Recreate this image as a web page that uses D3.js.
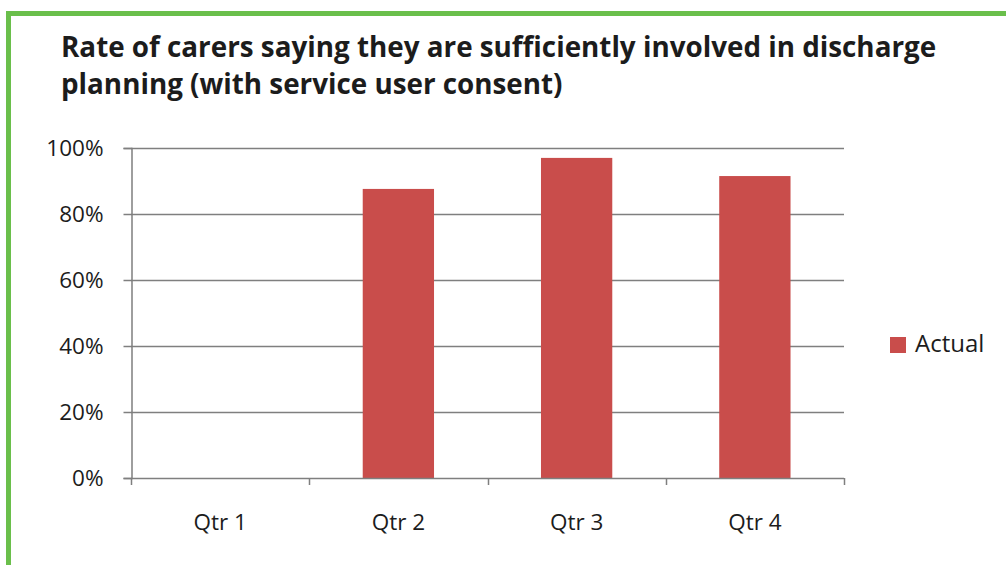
<!DOCTYPE html>
<html>
<head>
<meta charset="utf-8">
<script src="https://cdn.jsdelivr.net/npm/d3@7"></script>
<style>
  html, body { margin: 0; padding: 0; background: #ffffff; }
  svg { display: block; }
</style>
</head>
<body>
<script>
// Quarterly rate of carers who feel involved in discharge planning
const quarters = ["Qtr 1", "Qtr 2", "Qtr 3", "Qtr 4"];
const actual = [null, 87.6, 97, 91.5];
const yTicks = [0, 20, 40, 60, 80, 100];
const seriesName = "Actual";
const titleLines = [
  "Rate of carers saying they are sufficiently involved in discharge",
  "planning (with service user consent)"
];

const W = 1006, H = 565;
const plot = { left: 131, right: 844, top: 148, bottom: 478 };

const svg = d3.select("body").append("svg")
  .attr("width", W).attr("height", H);

// green frame (open to the right and bottom)
svg.append("path")
  .attr("d", `M8.5,${H} V13.5 H${W}`)
  .attr("fill", "none")
  .attr("stroke", "#6abf4b")
  .attr("stroke-width", 5);

// title, two lines
titleLines.forEach((t, i) => {
  svg.append("text")
    .attr("x", 61).attr("y", 57 + i * 37)
    .attr("font-family", "'Open Sans', sans-serif")
    .attr("font-weight", 700)
    .attr("font-size", 27.8)
    .attr("fill", "#1c1c1c")
    .text(t);
});

const xBand = d3.scaleBand().domain(quarters).range([plot.left, plot.right]);
const y = d3.scaleLinear().domain([0, 100]).range([plot.bottom, plot.top]);

// horizontal gridlines
svg.append("g").selectAll("line").data(yTicks.filter(d => d > 0)).join("line")
  .attr("x1", plot.left).attr("x2", plot.right)
  .attr("y1", d => Math.round(y(d)) + 0.5).attr("y2", d => Math.round(y(d)) + 0.5)
  .attr("stroke", "#7f7f7f").attr("stroke-width", 1.5);

// bars (gap width 150%)
const bw = xBand.bandwidth() / 2.5;
svg.append("g").selectAll("rect")
  .data(quarters.map((q, i) => ({ q, v: actual[i] })).filter(d => d.v != null))
  .join("rect")
  .attr("x", d => xBand(d.q) + (xBand.bandwidth() - bw) / 2)
  .attr("width", bw)
  .attr("y", d => y(d.v))
  .attr("height", d => y(0) - y(d.v))
  .attr("fill", "#c94d4b");

// y axis
const yAxis = svg.append("g")
  .attr("transform", `translate(${plot.left + 0.5},0)`)
  .call(d3.axisLeft(y).tickValues(yTicks).tickFormat(d => d + "%").tickSize(8).tickPadding(20));
// x axis
const xAxis = svg.append("g")
  .attr("transform", `translate(0,${plot.bottom + 0.5})`)
  .call(d3.axisBottom(xBand).tickSize(0).tickPadding(36));
// category boundary ticks on the x axis
svg.append("g").selectAll("line")
  .data(quarters.map(q => xBand(q)).concat([plot.right]))
  .join("line")
  .attr("x1", d => Math.round(d) + 0.5).attr("x2", d => Math.round(d) + 0.5)
  .attr("y1", plot.bottom).attr("y2", plot.bottom + 7)
  .attr("stroke", "#7f7f7f").attr("stroke-width", 1.5);

[yAxis, xAxis].forEach(g => {
  g.select(".domain").attr("stroke", "#7f7f7f").attr("stroke-width", 1.5);
  g.selectAll(".tick line").attr("stroke", "#7f7f7f").attr("stroke-width", 1.5);
  g.selectAll("text")
    .attr("font-family", "'Open Sans', sans-serif")
    .attr("font-size", 22.5)
    .attr("fill", "#1c1c1c");
});
xAxis.select(".domain").attr("d", `M${plot.left},0H${plot.right}`);

// legend
const legend = svg.append("g").attr("transform", "translate(890,337)");
legend.append("rect").attr("width", 16).attr("height", 16).attr("fill", "#c94d4b");
legend.append("text")
  .attr("x", 25).attr("y", 15)
  .attr("font-family", "'Open Sans', sans-serif")
  .attr("font-size", 24)
  .attr("fill", "#1c1c1c")
  .text(seriesName);
</script>
</body>
</html>
